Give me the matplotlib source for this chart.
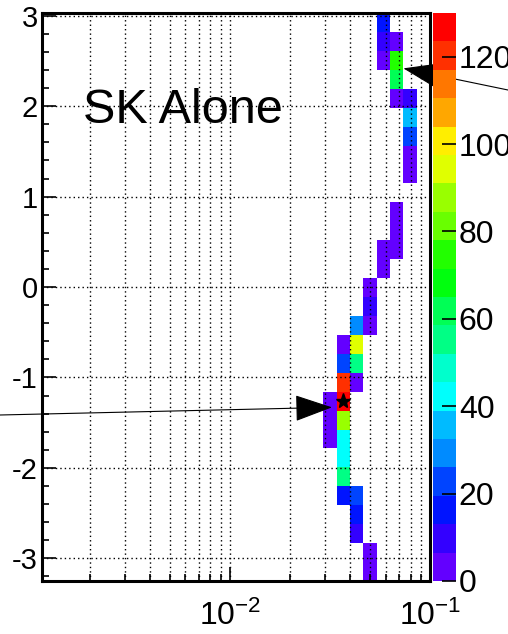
"""
SK alone: 2D histogram of fit results, log x vs delta, ROOT COLZ look.
"""

import numpy as np
import matplotlib
matplotlib.use("Agg")
import matplotlib.pyplot as plt
from matplotlib import colors, ticker

# ── histogram binning ─────────────────────────────────────────
x_edges = np.logspace(-3, -1, 31)
y_edges = np.linspace(-3.25, 3.03, 31)

# ── filled cells (column index, row index, entries) ───────────
cell_col = [25, 25, 24, 24, 24, 23, 23, 23, 23, 22, 22, 22, 23, 23,
            23, 24, 23, 24, 23, 24, 24, 25, 25, 25, 26, 26, 27, 27, 27,
            28, 28, 28, 28, 28, 27, 27, 27, 27, 26, 26, 26]
cell_row = [0, 1, 2, 3, 4, 4, 5, 6, 7, 7, 8, 9, 8, 9,
            10, 10, 11, 11, 12, 12, 13, 13, 14, 15, 16, 17, 17, 18, 19,
            21, 22, 23, 24, 25, 25, 26, 27, 28, 27, 28, 29]
cell_count = [3, 4, 10, 16, 22, 16, 55, 42, 43, 2, 3, 5, 88, 130,
              120, 4, 23, 55, 3, 94, 30, 4, 10, 3, 2, 3, 4, 3, 2,
              3, 4, 22, 35, 10, 3, 62, 75, 4, 5, 10, 16]

# best fit point and the two arrow tips
best_x, best_y = 0.0367, -1.265
arrow_tips = [(0.0324, -1.33), (0.0736, 2.418)]
arrow_tails_px = [(0, 219), (508, 544)]

cbar_ticks = [0, 20, 40, 60, 80, 100, 120]
label = "SK Alone"

plt.rcParams["font.family"] = ["Liberation Sans", "DejaVu Sans"]
plt.rcParams["axes.unicode_minus"] = False
plt.rcParams["mathtext.fontset"] = "custom"
plt.rcParams["mathtext.rm"] = "Liberation Sans"
plt.rcParams["mathtext.it"] = "Liberation Sans:italic"
plt.rcParams["mathtext.bf"] = "Liberation Sans:bold"

counts = np.zeros((30, 30))
for c, r, n in zip(cell_col, cell_row, cell_count):
    counts[r, c] = n
counts = np.ma.masked_equal(counts, 0)

# ROOT "pretty" palette: 50 hues violet->red, 20 contour levels
n_lev = 20
pal_hue = [280 - (i + 1) * 280 / 50 for i in range(50)]
lev_hue = [pal_hue[int((k + 0.99) * 50 / n_lev)] for k in range(n_lev)]
cmap = colors.ListedColormap(
    [colors.hsv_to_rgb((h / 360.0, 1, 1)) for h in lev_hue])
zmax = max(cell_count)
levels = np.linspace(0, zmax, n_lev + 1)
norm = colors.BoundaryNorm(levels, cmap.N)

fig = plt.figure(figsize=(5.08, 6.34), dpi=100)
ax = fig.add_axes([42 / 508, 53 / 634, 388 / 508, 568 / 634])
cax = fig.add_axes([432.5 / 508, 53 / 634, 23.5 / 508, 568 / 634])

mesh = ax.pcolormesh(x_edges, y_edges, counts, cmap=cmap, norm=norm,
                     edgecolors="none", linewidth=0, zorder=1)
ax.plot(best_x, best_y, marker="*", color="black", ms=11, zorder=4)

ax.set_xscale("log")
ax.set_xlim(10 ** -2.938, 0.1)
ax.set_ylim(-3.25, 3.03)

ax.xaxis.set_major_locator(ticker.LogLocator(base=10, numticks=10))
ax.xaxis.set_minor_locator(ticker.LogLocator(base=10, subs=np.arange(2, 10),
                                             numticks=20))
ax.xaxis.set_minor_formatter(ticker.NullFormatter())
ax.yaxis.set_major_locator(ticker.MultipleLocator(1))
ax.yaxis.set_minor_locator(ticker.MultipleLocator(0.2))

ax.tick_params(which="both", direction="in", top=False, right=False,
               labelsize=21, width=1.2)
ax.tick_params(axis="y", which="major", length=10, pad=3)
ax.tick_params(axis="y", which="minor", length=5)
ax.tick_params(axis="x", which="major", length=10, pad=14, labelsize=23)
ax.tick_params(axis="x", which="minor", length=5)

grid_style = dict(color="black", linestyle=(0, (1, 2.2)), linewidth=1.0)
ax.grid(True, which="both", axis="x", **grid_style)
ax.grid(True, which="major", axis="y", **grid_style)
ax.set_axisbelow(False)
for s in ax.spines.values():
    s.set_linewidth(2.2)
    s.set_zorder(5)

cb = fig.colorbar(mesh, cax=cax, ticks=cbar_ticks)
cb.outline.set_visible(False)
cax.tick_params(direction="in", length=10, width=1.2, labelsize=23,
                pad=2, right=True, left=False)
cax.yaxis.set_minor_locator(ticker.NullLocator())

for tip, tail in zip(arrow_tips, arrow_tails_px):
    ax.annotate("", xy=tip, xycoords="data", xytext=tail,
                textcoords="figure pixels", annotation_clip=False,
                arrowprops=dict(arrowstyle="-|>,head_length=24,head_width=8.5",
                                mutation_scale=1, color="black", lw=0.8,
                                shrinkA=0, shrinkB=0), zorder=6)

fig.text(83 / 508, 511 / 634, label, fontsize=35, va="baseline",
         ha="left", zorder=6)

fig.savefig("out.png", dpi=100)
plt.close(fig)
